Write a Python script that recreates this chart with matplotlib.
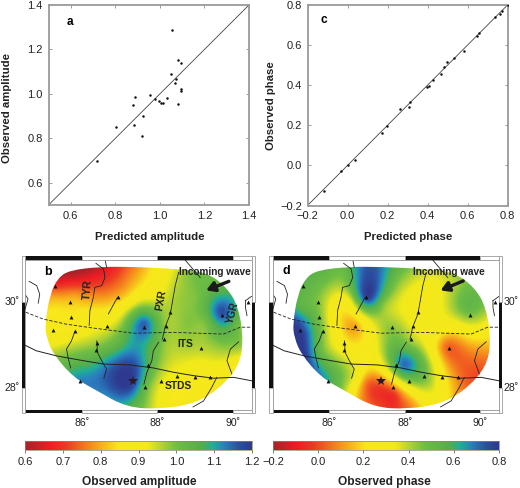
import numpy as np
import matplotlib
matplotlib.use("Agg")
import matplotlib.pyplot as plt
from matplotlib.colors import LinearSegmentedColormap
from matplotlib.patches import PathPatch, Rectangle
from matplotlib.path import Path

plt.rcParams['font.family'] = ['Liberation Sans', 'DejaVu Sans']

# scatter a
pred_amp = [1.054,1.081,1.096,1.051,1.072,1.067,1.094,1.094,1.081,0.955,0.888,0.879,0.976,0.994,1.007,1.016,1.031,0.924,0.884,0.921,0.804,0.718]
obs_amp = [1.286,1.153,1.138,1.09,1.066,1.048,1.021,1.013,0.955,0.994,0.987,0.952,0.978,0.97,0.961,0.96,0.98,0.9,0.861,0.811,0.853,0.699]
# scatter c
pred_ph = [-0.117,-0.035,0,0.037,0.172,0.198,0.263,0.305,0.31,0.397,0.405,0.427,0.467,0.48,0.498,0.532,0.582,0.648,0.657,0.735,0.76,0.77,0.8]
obs_ph = [-0.13,-0.026,0,0.029,0.164,0.197,0.282,0.293,0.315,0.393,0.398,0.426,0.456,0.489,0.514,0.536,0.569,0.646,0.662,0.742,0.753,0.768,0.8]

# map field control points (lon, lat, value)
amp_pts = [(85.3,30.5,.645),(85.9,30.6,.63),(86.5,30.7,.65),(87.2,30.7,.75),(87.8,30.7,.84),(88.4,30.7,.93),(89.0,30.7,1.0),(89.6,30.5,1.02),
 (85.2,30.1,.8),(85.8,30.15,.79),(86.5,30.2,.76),(87.2,30.1,.84),(87.9,30.1,.92),(88.5,30.1,.97),(89.1,30.1,1.0),(89.7,29.75,1.17),(90.1,29.9,1.08),(89.7,30.25,1.06),
 (85.1,29.5,.87),(85.7,29.5,.86),(86.3,29.5,.9),(87.0,29.5,.96),(87.65,29.5,1.15),(88.2,29.5,.98),(88.8,29.5,.99),(89.3,29.5,1.0),(90.2,29.5,1.0),
 (85.2,29.0,.92),(85.8,29.0,.95),(86.4,29.0,.98),(87.0,29.0,1.05),(87.6,29.0,1.1),(88.2,29.0,.98),(88.8,29.0,.97),(89.5,29.0,.98),(90.25,29.0,.98),
 (85.6,28.5,1.05),(86.2,28.5,1.08),(86.8,28.5,1.15),(87.4,28.5,1.17),(87.9,28.5,1.02),(88.5,28.5,.93),(89.1,28.5,.91),(89.7,28.5,.91),(90.15,28.5,.87),
 (86.0,28.1,1.13),(86.6,28.1,1.15),(87.3,28.1,1.2),(87.7,28.0,1.02),(88.2,28.0,.91),(88.8,28.0,.88),(89.5,28.0,.85),
 (86.6,27.7,1.1),(87.3,27.5,1.05),(87.9,27.5,.94),(88.5,27.5,.87),(89.2,27.6,.85)]
ph_pts = [(87.0,30.8,.74),(87.0,30.55,.76),(87.0,30.1,.78),(85.3,29.2,.78),(85.2,29.5,.74),(85.4,28.8,.75),(86.68,29.45,.13),(87.4,27.95,-.03),(87.7,27.8,-.05),
 (87.4,27.6,-.02),(87.0,28.1,.05),(87.9,27.65,.02),(87.96,28.5,.7),
 (89.4,28.7,.03),(89.1,28.95,.04),(89.6,28.85,.07),(89.65,28.3,.02),(89.47,28.0,.08),(90.1,28.95,.14),(88.76,30.2,.3),(88.4,29.57,.3),(87.7,30.5,.5),(85.5,30.2,.5),
 (85.93,30.6,.5),(89.65,29.9,.52),(89.47,30.4,.44),(87.6,29.4,.44),(87.43,29.95,.45),(88.15,29.0,.45),(85.93,28.25,.62),(86.7,28.25,.32),(86.37,28.8,.33),
 (85.75,28.85,.5),(86.1,29.34,.3),(85.75,29.8,.44),(88.5,28.1,.44),(88.76,27.7,.3),(88.2,27.7,.15),(86.6,27.8,.25),(88.85,28.65,.25),(88.85,29.34,.28),
 (89.82,29.34,.3),(90.2,29.6,.35),(86.4,30.7,.5),(86.5,30.0,.3),(88.2,30.7,.42),(87.3,28.7,.33),(85.2,29.9,.55)]

outline_lon = [85.03,85.16,85.38,85.69,86.49,87.37,88.52,89.32,89.85,90.16,90.29,90.16,89.58,88.96,88.08,87.19,86.40,85.78,85.25,85.07]
outline_lat = [29.49,30.19,30.58,30.75,30.83,30.83,30.78,30.70,30.35,29.88,29.11,28.48,27.94,27.63,27.51,27.55,27.94,28.25,28.79,29.18]

sta_lon = [85.30,85.70,85.72,85.23,85.83,86.68,86.96,87.66,88.35,88.23,88.17,89.17,89.73,86.40,86.38,87.76,85.96,87.68,88.11,88.52,89.00,89.40,90.40]
sta_lat = [30.38,30.00,29.65,29.35,29.33,29.46,30.12,29.42,29.77,29.44,29.15,28.94,29.70,29.06,28.89,28.54,28.17,28.02,28.16,28.28,28.26,28.27,30.02]
star_lon, star_lat = 87.36, 28.16

stds = [(84.5,29.0),(84.8,28.87),(85.34,28.75),(86.04,28.64),(86.58,28.56),(87.28,28.54),(87.9,28.47),(88.43,28.37),(88.96,28.29),(89.5,28.23),(90.03,28.25),(90.5,28.17)]
its = [(84.52,29.77),(84.98,29.61),(85.6,29.49),(86.31,29.4),(87.37,29.28),(88.43,29.3),(89.76,29.26),(90.2,29.42),(90.5,29.42)]
rifts = [
 [(86.38,30.91),(86.58,30.78),(86.62,30.58),(86.53,30.39),(86.35,30.35),(86.31,30.12),(86.22,29.81),(86.2,29.46)],
 [(86.95,30.12),(86.71,29.73)],
 [(85.82,29.32),(85.73,29.1),(85.6,28.91),(85.65,28.68),(85.71,28.47)],
 [(86.4,29.1),(86.42,28.83),(86.53,28.64),(86.66,28.44),(86.59,28.23)],
 [(88.57,30.7),(88.48,30.39),(88.35,29.73),(88.21,29.42),(88.14,29.14)],
 [(88.04,29.07),(87.9,28.87),(87.86,28.64),(87.73,28.37),(87.65,28.09)],
 [(89.58,28.25),(89.45,28.02),(89.23,27.7),(88.95,27.56)],
 [(90.16,29.08),(89.94,28.91),(89.85,28.64),(89.98,28.33)],
 [(84.61,30.49),(84.81,30.39),(84.89,30.19),(84.85,29.98)],
 [(84.5,30.19),(84.58,30.08),(84.5,29.84)],
 [(88.74,30.99),(89.14,30.58)],
 [(86.62,31.0),(86.66,30.82)],
 [(90.34,30.04),(90.5,30.14)],
 [(90.34,30.04),(90.34,29.88),(90.38,29.69)],
]

cmap = LinearSegmentedColormap.from_list('amp', [
 (0.0,'#a8232a'),(0.1,'#ed1c24'),(0.18,'#ee3a24'),(0.3,'#f7941d'),(0.41,'#f8e71c'),(0.54,'#f2ea1a'),(0.6,'#b5d334'),
 (0.67,'#6fbe44'),(0.78,'#55ae4c'),(0.83,'#1fae9a'),(0.88,'#2a7fc0'),(0.94,'#2b52a3'),(1.0,'#2e3a8f')])

W, H = 520, 488
fig = plt.figure(figsize=(W/100, H/100), dpi=100)

def axpx(x0, y0, x1, y1):
    return fig.add_axes([x0/W, 1-y1/H, (x1-x0)/W, (y1-y0)/H])

GRAY = '#9a9a9a'
TS = 8
LS = 8.2

def scatter_panel(rect, xs, ys, lo, hi, ticks, fmt, letter, letter_pos, xlabel, ylabel, xlpos, ylpos):
    ax = axpx(*rect)
    ax.plot([lo, hi], [lo, hi], color='#333333', lw=0.55, zorder=2)
    ax.plot(xs, ys, ls='none', marker='o', ms=1.8, mew=0, color='#111111', zorder=3)
    ax.set_xlim(lo, hi); ax.set_ylim(lo, hi)
    ax.set_xticks(ticks); ax.set_yticks(ticks)
    labs = [fmt(t) for t in ticks]
    ax.set_xticklabels(labs); ax.set_yticklabels(labs)
    ax.tick_params(direction='in', length=2, width=0.7, color=GRAY, labelsize=TS, pad=4, top=True, right=True, labelcolor='#222222')
    for s in ax.spines.values():
        s.set_color(GRAY); s.set_linewidth(1.3)
    fig.text(letter_pos[0]/W, 1-letter_pos[1]/H, letter, fontsize=LS+0.3, fontweight='bold', ha='center', va='center')
    fig.text(xlpos[0]/W, 1-xlpos[1]/H, xlabel, fontsize=LS, fontweight='bold', ha='center', va='center', color='#222222')
    fig.text(ylpos[0]/W, 1-ylpos[1]/H, ylabel, fontsize=LS, fontweight='bold', rotation=90, ha='center', va='center', color='#222222')

def f1(t):
    return f'{t:.1f}'.replace('-', '\u2212')

scatter_panel((48.5,5,249,205), pred_amp, obs_amp, 0.5, 1.4, [0.6,0.8,1.0,1.2,1.4], f1, 'a', (70,22),
              'Predicted amplitude', 'Observed amplitude', (150,237), (7,108))
scatter_panel((307.5,5,507.5,205.5), pred_ph, obs_ph, -0.2, 0.8, [-0.2,0,0.2,0.4,0.6,0.8], f1, 'c', (324,20),
              'Predicted phase', 'Observed phase', (408,237), (271,106))

def field(points, xx, yy):
    p = np.array(points, float)
    def k(r):
        r = np.maximum(r, 1e-9)
        return r*r*np.log(r)
    d = np.hypot(p[:,0,None]-p[:,0,None].T, p[:,1,None]-p[:,1,None].T)
    n = len(p)
    P = np.c_[np.ones(n), p[:,:2]]
    A = np.block([[k(d)+0.002*np.eye(n), P],[P.T, np.zeros((3,3))]])
    w = np.linalg.solve(A, np.r_[p[:,2], np.zeros(3)])
    r = np.hypot(xx[...,None]-p[:,0], yy[...,None]-p[:,1])
    return k(r)@w[:n] + w[n] + w[n+1]*xx + w[n+2]*yy

def smooth_closed(x, y):
    pts = np.c_[x, y]
    mids = (pts + np.roll(pts, -1, axis=0))/2
    verts = [mids[-1]]; codes = [Path.MOVETO]
    for i in range(len(pts)):
        verts += [pts[i], mids[i]]
        codes += [Path.CURVE3, Path.CURVE3]
    return Path(verts, codes)

def map_panel(rect, points, vmin, vmax, letter, letter_pos, lat_side, wave_pos, arrow):
    ax = axpx(*rect)
    ax.set_xlim(84.5, 90.5); ax.set_ylim(27.5, 31)
    gx, gy = np.meshgrid(np.linspace(84.9, 90.4, 280), np.linspace(27.4, 30.9, 180))
    z = field(points, gx, gy)
    im = ax.imshow(z, extent=(84.9,90.4,27.4,30.9), origin='lower', cmap=cmap, vmin=vmin, vmax=vmax, aspect='auto', zorder=1)
    path = smooth_closed(outline_lon, outline_lat)
    clip = PathPatch(path, transform=ax.transData, fc='none', ec='none')
    ax.add_patch(clip)
    im.set_clip_path(clip)
    ax.set_xlim(84.5, 90.5); ax.set_ylim(27.5, 31)
    for r in rifts:
        ax.plot(*zip(*r), color='#222222', lw=0.6, zorder=3)
    ax.plot(*zip(*stds), color='#222222', lw=0.7, zorder=3)
    ax.plot(*zip(*its), color='#222222', lw=0.6, ls=(0,(4,2)), zorder=3)
    ax.plot(sta_lon, sta_lat, ls='none', marker='^', ms=2.8, color='#111111', mew=0, zorder=4)
    ax.plot([star_lon], [star_lat], ls='none', marker='*', ms=7.5, color='#2a1a2a', mew=0, zorder=4)
    # fancy frame
    bx, by = 0.09, 0.08
    ax.set_xticks([]); ax.set_yticks([])
    for s in ax.spines.values():
        s.set_color('#9a9a9a'); s.set_linewidth(0.7)
    kw = dict(clip_on=False, zorder=6)
    for y0 in (31, 27.5-by):
        ax.add_patch(Rectangle((84.5, y0), 1.5, by, fc='#111111', ec='none', **kw))
        ax.add_patch(Rectangle((88, y0), 2, by, fc='#111111', ec='none', **kw))
        ax.add_patch(Rectangle((86, y0), 2, by, fc='white', ec='#9a9a9a', lw=0.6, **kw))
        ax.add_patch(Rectangle((90, y0), 0.5, by, fc='white', ec='#9a9a9a', lw=0.6, **kw))
    for x0 in (84.5-bx, 90.5):
        ax.add_patch(Rectangle((x0, 28), bx, 2, fc='#111111', ec='none', **kw))
        ax.add_patch(Rectangle((x0, 30), bx, 1+by, fc='white', ec='#9a9a9a', lw=0.6, **kw))
        ax.add_patch(Rectangle((x0, 27.5-by), bx, 0.5+by, fc='white', ec='#9a9a9a', lw=0.6, **kw))
    for lon in (86, 88, 90):
        ax.text(lon, 27.19, f'{lon}\u02da', fontsize=TS-0.4, ha='center', va='center', color='#222222')
    for lat in (28, 30):
        if lat_side == 'left':
            ax.text(84.37, lat, f'{lat}\u02da', fontsize=TS-0.4, ha='right', va='center', color='#222222', clip_on=False)
        else:
            ax.text(90.63, lat, f'{lat}\u02da', fontsize=TS-0.4, ha='left', va='center', color='#222222', clip_on=False)
    ax.text(*letter_pos, letter, fontsize=LS+0.8, fontweight='bold', ha='center', va='center', zorder=7)
    ax.text(*wave_pos, 'Incoming wave', fontsize=7.2, fontweight='bold', ha='center', va='center', color='#222222', zorder=7)
    ax.annotate('', xy=arrow[1], xytext=arrow[0], zorder=7,
                arrowprops=dict(arrowstyle='-|>,head_width=0.3,head_length=0.5', lw=2.4, color='#1a1a1a', shrinkA=0, shrinkB=0))
    return ax

axb = map_panel((25,259.5,251.5,409.5), amp_pts, 0.6, 1.2, 'b', (85.1,30.7), 'left', (89.53,30.7), ((89.9,30.49),(89.3,30.28)))
for t, x, y, rot in [('TYR',86.15,30.3,85),('PXR',88.12,30.05,80),('ITS',88.75,29.03,0),('STDS',88.57,28.04,0),('YGR',90.0,29.76,75)]:
    axb.text(x, y, t, fontsize=7.4, fontweight='bold', rotation=rot, ha='center', va='center', color='#222222', zorder=5)
axd = map_panel((272.8,259.5,499,409.5), ph_pts, -0.2, 0.8, 'd', (84.85,30.72), 'right', (89.16,30.7), ((89.55,30.5),(88.95,30.28)))

def cbar(rect, vmin, vmax, ticks, fmt, label, lpos):
    ax = axpx(*rect)
    ax.imshow(np.linspace(vmin, vmax, 512)[None,:], extent=(vmin,vmax,0,1), aspect='auto', cmap=cmap, vmin=vmin, vmax=vmax)
    ax.set_yticks([])
    ax.set_xticks(ticks)
    ax.set_xticklabels([fmt(t) for t in ticks])
    ax.tick_params(axis='x', length=2, width=0.6, color='#666666', labelsize=TS, pad=3, labelcolor='#222222')
    for s in ax.spines.values():
        s.set_color('#8a8a6a'); s.set_linewidth(0.5)
    fig.text(lpos[0]/W, 1-lpos[1]/H, label, fontsize=LS+0.4, fontweight='bold', ha='center', va='center', color='#222222')

cbar((25,440.5,252,450), 0.6, 1.2, [0.6,0.7,0.8,0.9,1.0,1.1,1.2], f1, 'Observed amplitude', (139,481.5))
cbar((273,440.5,499,450), -0.2, 0.8, [-0.2,0,0.2,0.4,0.6,0.8], f1, 'Observed phase', (384.5,481.5))

fig.savefig('out.png', dpi=100)
